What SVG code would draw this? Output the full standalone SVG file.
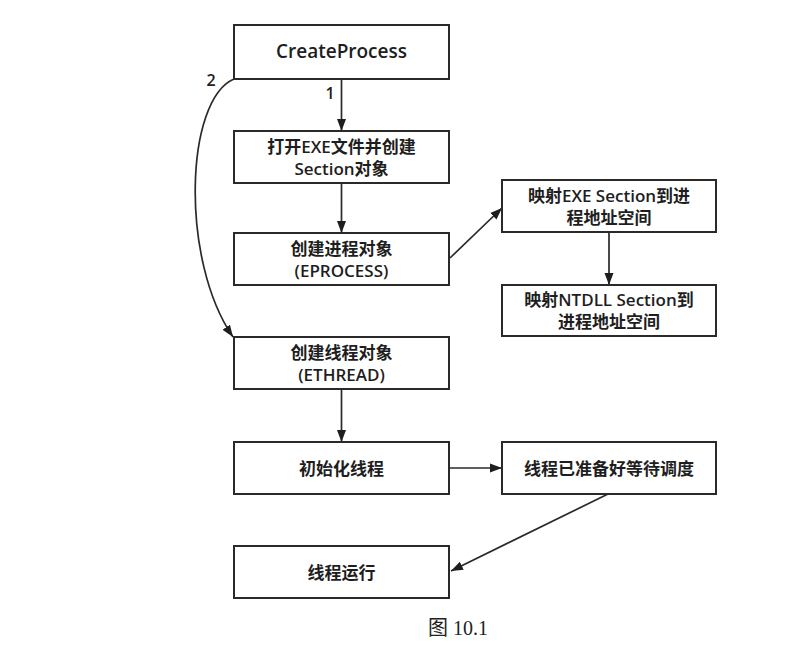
<svg xmlns="http://www.w3.org/2000/svg" width="808" height="663" viewBox="0 0 808 663">
<style>
.box{fill:#fff;stroke:#2a2a2a;stroke-width:2}
.t{font-family:"Open Sans","Noto Sans CJK SC",sans-serif;font-size:17px;font-weight:600;fill:#1e1e1e;text-anchor:middle;dominant-baseline:central}
.big{font-size:19px}
.lbl{font-family:"Open Sans",sans-serif;font-size:16px;font-weight:600;fill:#1e1e1e;text-anchor:middle;dominant-baseline:central}
.c{fill:none;stroke:#2a2a2a;stroke-width:1.7}
.cap{font-family:"Liberation Serif","Noto Sans CJK SC",serif;font-size:20px;fill:#222;text-anchor:middle}
</style>
<defs>
<marker id="ah" viewBox="0 0 12 10" refX="12" refY="5" markerWidth="12" markerHeight="10" markerUnits="userSpaceOnUse" orient="auto">
<path d="M0,0.5 L12,5 L0,9.5 z" fill="#1e1e1e"/>
</marker>
</defs>
<rect width="808" height="663" fill="#fff"/>
<g id="connectors">
<path class="c" d="M341.5,79 L341.5,131" marker-end="url(#ah)"/>
<path class="c" d="M234,79 C185,100 180,260 233,337" marker-end="url(#ah)"/>
<path class="c" d="M341.5,183 L341.5,233" marker-end="url(#ah)"/>
<path class="c" d="M450,258 L502,208" marker-end="url(#ah)"/>
<path class="c" d="M609,232 L609,285" marker-end="url(#ah)"/>
<path class="c" d="M341.5,389 L341.5,442" marker-end="url(#ah)"/>
<path class="c" d="M450,468 L502,468" marker-end="url(#ah)"/>
<path class="c" d="M608,494 L451,571" marker-end="url(#ah)"/>
<text class="lbl" x="330" y="93">1</text>
<text class="lbl" x="211" y="80">2</text>
</g>
<g id="n1"><rect class="box" x="234" y="25" width="215" height="54"/><text class="t big" x="341.5" y="51">CreateProcess</text></g>
<g id="n2"><rect class="box" x="234" y="131" width="215" height="52"/><text class="t" x="341.5" y="146">打开EXE文件并创建</text><text class="t" x="341.5" y="168">Section对象</text></g>
<g id="n3"><rect class="box" x="234" y="233" width="215" height="52"/><text class="t" x="341.5" y="248">创建进程对象</text><text class="t" x="341.5" y="270">(EPROCESS)</text></g>
<g id="nA"><rect class="box" x="502" y="180" width="214" height="52"/><text class="t" x="609" y="195">映射EXE Section到进</text><text class="t" x="609" y="217">程地址空间</text></g>
<g id="nB"><rect class="box" x="502" y="285" width="214" height="51"/><text class="t" x="609" y="299">映射NTDLL Section到</text><text class="t" x="609" y="321">进程地址空间</text></g>
<g id="n4"><rect class="box" x="234" y="337" width="215" height="52"/><text class="t" x="341.5" y="352">创建线程对象</text><text class="t" x="341.5" y="374">(ETHREAD)</text></g>
<g id="n5"><rect class="box" x="234" y="442" width="215" height="52"/><text class="t" x="341.5" y="468">初始化线程</text></g>
<g id="n6"><rect class="box" x="502" y="442" width="214" height="52"/><text class="t" x="609" y="468">线程已准备好等待调度</text></g>
<g id="n7"><rect class="box" x="234" y="546" width="215" height="52"/><text class="t" x="341.5" y="572">线程运行</text></g>
<text class="cap" x="458" y="635">图 10.1</text>
</svg>
